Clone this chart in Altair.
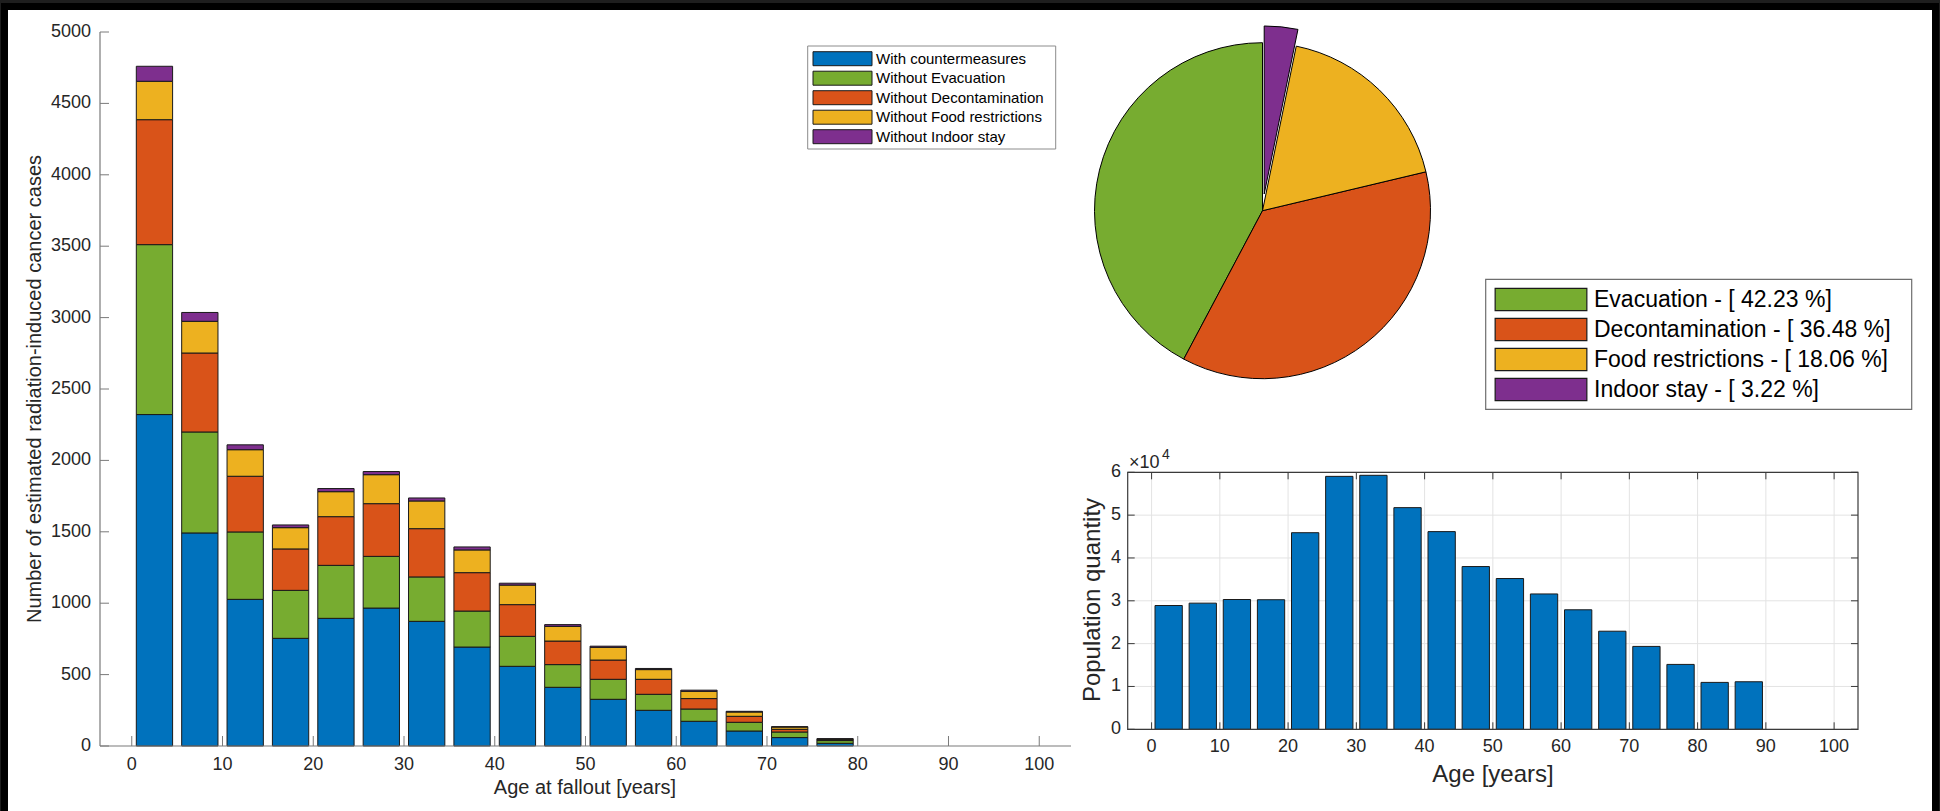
import math
import altair as alt
import pandas as pd

W, H = 1940, 811
FONT = "Liberation Sans"
INK = "#262626"
AXIS_GRAY = "#7a7a7a"
EDGE = "#1a1a1a"

# ---- Radiation-induced cancer cases by age at fallout (5-year groups) ----
age_groups = [0, 5, 10, 15, 20, 25, 30, 35, 40, 45, 50, 55, 60, 65, 70, 75]
series_names = ["With countermeasures", "Without Evacuation", "Without Decontamination",
                "Without Food restrictions", "Without Indoor stay"]
series_colors = ["#0072BD", "#77AC30", "#D95319", "#EDB120", "#7E2F8E"]
with_countermeasures = [2321, 1492, 1027, 754, 894, 966, 873, 693, 558, 411, 327, 250, 173, 105, 59, 19]
extra_evacuation = [1190, 707, 472, 336, 371, 362, 311, 252, 210, 159, 140, 112, 86, 61, 39, 19]
extra_decontamination = [875, 553, 390, 290, 341, 369, 338, 269, 222, 165, 135, 105, 73, 42, 19, 6]
extra_food = [269, 222, 186, 149, 175, 203, 194, 159, 137, 103, 89, 68, 51, 30, 16, 5]
extra_indoor = [105, 62, 34, 19, 22, 22, 21, 21, 13, 12, 8, 8, 8, 5, 2, 2]
cases_x_ticks = [0, 10, 20, 30, 40, 50, 60, 70, 80, 90, 100]
cases_y_ticks = [0, 500, 1000, 1500, 2000, 2500, 3000, 3500, 4000, 4500, 5000]

# ---- Share of averted cases per countermeasure ----
pie_names = ["Evacuation", "Decontamination", "Food restrictions", "Indoor stay"]
pie_pct = [42.23, 36.48, 18.06, 3.22]
pie_colors = ["#77AC30", "#D95319", "#EDB120", "#7E2F8E"]

# ---- Population by age ----
pop_ages = [0, 5, 10, 15, 20, 25, 30, 35, 40, 45, 50, 55, 60, 65, 70, 75, 80, 85]
population = [28900, 29450, 30300, 30250, 45900, 59050, 59300, 51750, 46150,
              38000, 35200, 31600, 27900, 22900, 19350, 15150, 10950, 11100]
pop_x_ticks = [0, 10, 20, 30, 40, 50, 60, 70, 80, 90, 100]
pop_y_ticks = [0, 10000, 20000, 30000, 40000, 50000, 60000]

# ---------------------------------------------------------------------------
one = pd.DataFrame({"a": [0]})

cases_rows = []
for k, (name, vals) in enumerate(zip(series_names, [with_countermeasures, extra_evacuation,
                                                    extra_decontamination, extra_food, extra_indoor])):
    for age, v in zip(age_groups, vals):
        cases_rows.append({"age": age, "series": name, "k": k, "cases": v})
cases_df = pd.DataFrame(cases_rows)

pie_df = pd.DataFrame({"name": pie_names, "pct": pie_pct, "idx": list(range(len(pie_names))),
                       "label": [f"{n} - [ {p:.2f} %]" for n, p in zip(pie_names, pie_pct)]})
pop_df = pd.DataFrame({"age": pop_ages, "pop": population})
legend_df = pd.DataFrame({"series": series_names})


def lin(domain, rng):
    return alt.Scale(domain=list(domain), range=list(rng), nice=False, zero=False)


# panel geometry (pixels)
LX = lin([-3.5, 103.5], [100, 1071])
LY = lin([0, 5000], [746, 32])
RX = lin([-3.5, 103.5], [1127.7, 1858])
RY = lin([0, 60000], [729.3, 472.3])

series_scale = alt.Scale(domain=series_names, range=series_colors)
pie_scale = alt.Scale(domain=pie_names, range=pie_colors)

layers = []

# window frame
layers.append(alt.Chart(one).mark_rect(color="#000000").encode(
    x=alt.value(1), x2=alt.value(1939), y=alt.value(3), y2=alt.value(H)))
layers.append(alt.Chart(one).mark_rect(color="#ffffff").encode(
    x=alt.value(8), x2=alt.value(1932), y=alt.value(10), y2=alt.value(H)))

# ---------------- stacked cases chart ----------------
layers.append(
    alt.Chart(cases_df)
    .transform_calculate(x0="datum.age + 0.5", x1="datum.age + 4.5")
    .transform_stack(stack="cases", groupby=["age"], as_=["c0", "c1"],
                     sort=[alt.SortField("k", order="ascending")])
    .mark_rect(stroke=EDGE, strokeWidth=1)
    .encode(
        x=alt.X("x0:Q", scale=LX, axis=None), x2="x1:Q",
        y=alt.Y("c0:Q", scale=LY, axis=None), y2="c1:Q",
        color=alt.Color("series:N", scale=series_scale, legend=None),
    )
)
# axis lines
layers.append(alt.Chart(one).mark_rule(color=AXIS_GRAY, strokeWidth=1.2).encode(
    x=alt.value(100), x2=alt.value(1071), y=alt.value(746)))
layers.append(alt.Chart(one).mark_rule(color=AXIS_GRAY, strokeWidth=1.2).encode(
    x=alt.value(100), y=alt.value(32), y2=alt.value(746)))
# inward ticks
layers.append(alt.Chart(pd.DataFrame({"t": cases_x_ticks})).mark_rule(color=AXIS_GRAY, strokeWidth=1).encode(
    x=alt.X("t:Q", scale=LX, axis=None), y=alt.value(746), y2=alt.value(736)))
layers.append(alt.Chart(pd.DataFrame({"t": cases_y_ticks})).mark_rule(color=AXIS_GRAY, strokeWidth=1).encode(
    y=alt.Y("t:Q", scale=LY, axis=None), x=alt.value(100), x2=alt.value(109)))
# tick labels
layers.append(alt.Chart(pd.DataFrame({"t": cases_x_ticks})).mark_text(
    font=FONT, fontSize=18, color=INK, align="center", baseline="middle").encode(
    x=alt.X("t:Q", scale=LX, axis=None), y=alt.value(765), text=alt.Text("t:Q", format="d")))
layers.append(alt.Chart(pd.DataFrame({"t": cases_y_ticks})).mark_text(
    font=FONT, fontSize=18, color=INK, align="right", baseline="middle").encode(
    y=alt.Y("t:Q", scale=LY, axis=None), x=alt.value(91), text=alt.Text("t:Q", format="d")))
# axis titles
layers.append(alt.Chart(one).mark_text(
    font=FONT, fontSize=20, color=INK, align="center", baseline="middle",
    text="Age at fallout [years]").encode(x=alt.value(585), y=alt.value(788)))
layers.append(alt.Chart(one).mark_text(
    font=FONT, fontSize=20, color=INK, align="center", baseline="middle", angle=270,
    text="Number of estimated radiation-induced cancer cases").encode(x=alt.value(35), y=alt.value(389)))
# legend
layers.append(alt.Chart(one).mark_rect(fill="#ffffff", stroke="#8c8c8c", strokeWidth=1).encode(
    x=alt.value(807.7), x2=alt.value(1055.7), y=alt.value(46), y2=alt.value(149)))
row_l = alt.Scale(type="point", domain=series_names, range=[58.7, 136.7], padding=0)
layers.append(alt.Chart(legend_df).mark_point(
    shape="M-1,-0.237L1,-0.237L1,0.237L-1,0.237Z", size=59 * 59, filled=True, opacity=1,
    stroke=EDGE, strokeWidth=1).encode(
    x=alt.value(842.5), y=alt.Y("series:N", scale=row_l, axis=None),
    fill=alt.Fill("series:N", scale=series_scale, legend=None)))
layers.append(alt.Chart(legend_df).mark_text(
    font=FONT, fontSize=15, color="#000000", align="left", baseline="middle").encode(
    x=alt.value(876), y=alt.Y("series:N", scale=row_l, axis=None), text="series:N"))

# ---------------- pie chart ----------------
R = 168
CX, CY = 1262.5, 210.7
total = sum(pie_pct)
theta_scale = alt.Scale(domain=[0, total], range=[0, 2 * math.pi])
pie_base = (
    alt.Chart(pie_df)
    .transform_window(t1="sum(pct)", sort=[alt.SortField("idx", order="descending")],
                      frame=[None, 0])
    .transform_calculate(t0="datum.t1 - datum.pct")
)
explode_name = pie_names[-1]
mid = (pie_pct[-1] / 2) / total * 2 * math.pi
DX, DY = 0.1 * R * math.sin(mid), -0.1 * R * math.cos(mid)
layers.append(
    pie_base.transform_filter(alt.datum.name != explode_name)
    .mark_arc(radius=R, stroke="#000000", strokeWidth=1)
    .encode(theta=alt.Theta("t0:Q", scale=theta_scale), theta2="t1:Q",
            color=alt.Color("name:N", scale=pie_scale, legend=None),
            x=alt.value(CX), y=alt.value(CY))
)
layers.append(
    pie_base.transform_filter(alt.datum.name == explode_name)
    .mark_arc(radius=R, stroke="#000000", strokeWidth=1)
    .encode(theta=alt.Theta("t0:Q", scale=theta_scale), theta2="t1:Q",
            color=alt.Color("name:N", scale=pie_scale, legend=None),
            x=alt.value(CX + DX), y=alt.value(CY + DY))
)
# pie legend
layers.append(alt.Chart(one).mark_rect(fill="#ffffff", stroke="#6e6e6e", strokeWidth=1.2).encode(
    x=alt.value(1485.7), x2=alt.value(1911.7), y=alt.value(279.3), y2=alt.value(409.3)))
row_p = alt.Scale(type="point", domain=pie_names, range=[299.5, 389.5], padding=0)
layers.append(alt.Chart(pie_df).mark_point(
    shape="M-1,-0.244L1,-0.244L1,0.244L-1,0.244Z", size=91.7 * 91.7, filled=True, opacity=1,
    stroke=EDGE, strokeWidth=1.2).encode(
    x=alt.value(1541), y=alt.Y("name:N", scale=row_p, axis=None),
    fill=alt.Fill("name:N", scale=pie_scale, legend=None)))
layers.append(alt.Chart(pie_df).mark_text(
    font=FONT, fontSize=23, color="#000000", align="left", baseline="middle").encode(
    x=alt.value(1594), y=alt.Y("name:N", scale=row_p, axis=None), text="label:N"))

# ---------------- population chart ----------------
GRID = "#e3e3e3"
layers.append(alt.Chart(pd.DataFrame({"t": pop_x_ticks})).mark_rule(color=GRID, strokeWidth=1).encode(
    x=alt.X("t:Q", scale=RX, axis=None), y=alt.value(472.3), y2=alt.value(729.3)))
layers.append(alt.Chart(pd.DataFrame({"t": pop_y_ticks})).mark_rule(color=GRID, strokeWidth=1).encode(
    y=alt.Y("t:Q", scale=RY, axis=None), x=alt.value(1127.7), x2=alt.value(1858)))
layers.append(
    alt.Chart(pop_df)
    .transform_calculate(x0="datum.age + 0.5", x1="datum.age + 4.5", base="0")
    .mark_rect(color="#0072BD", stroke=EDGE, strokeWidth=1)
    .encode(x=alt.X("x0:Q", scale=RX, axis=None), x2="x1:Q",
            y=alt.Y("pop:Q", scale=RY, axis=None), y2="base:Q")
)
BOX = "#3a3a3a"
layers.append(alt.Chart(one).mark_rect(fillOpacity=0, stroke=BOX, strokeWidth=1.2).encode(
    x=alt.value(1127.7), x2=alt.value(1858), y=alt.value(472.3), y2=alt.value(729.3)))
for y0, y1 in [(729.3, 722.3), (472.3, 479.3)]:
    layers.append(alt.Chart(pd.DataFrame({"t": pop_x_ticks})).mark_rule(color=BOX, strokeWidth=1).encode(
        x=alt.X("t:Q", scale=RX, axis=None), y=alt.value(y0), y2=alt.value(y1)))
for x0, x1 in [(1127.7, 1134.7), (1858, 1851)]:
    layers.append(alt.Chart(pd.DataFrame({"t": pop_y_ticks})).mark_rule(color=BOX, strokeWidth=1).encode(
        y=alt.Y("t:Q", scale=RY, axis=None), x=alt.value(x0), x2=alt.value(x1)))
layers.append(alt.Chart(pd.DataFrame({"t": pop_x_ticks})).mark_text(
    font=FONT, fontSize=18, color=INK, align="center", baseline="middle").encode(
    x=alt.X("t:Q", scale=RX, axis=None), y=alt.value(747), text=alt.Text("t:Q", format="d")))
layers.append(alt.Chart(pd.DataFrame({"t": pop_y_ticks})).transform_calculate(lab="datum.t / 10000").mark_text(
    font=FONT, fontSize=18, color=INK, align="right", baseline="middle").encode(
    y=alt.Y("t:Q", scale=RY, axis=None), x=alt.value(1121), text=alt.Text("lab:Q", format="d")))
layers.append(alt.Chart(one).mark_text(
    font=FONT, fontSize=18, color=INK, align="left", baseline="alphabetic", text="\u00d710").encode(
    x=alt.value(1129), y=alt.value(468)))
layers.append(alt.Chart(one).mark_text(
    font=FONT, fontSize=14, color=INK, align="left", baseline="alphabetic", text="4").encode(
    x=alt.value(1162), y=alt.value(459)))
layers.append(alt.Chart(one).mark_text(
    font=FONT, fontSize=24, color=INK, align="center", baseline="middle", text="Age [years]").encode(
    x=alt.value(1493), y=alt.value(775)))
layers.append(alt.Chart(one).mark_text(
    font=FONT, fontSize=24, color=INK, align="center", baseline="middle", angle=270,
    text="Population quantity").encode(x=alt.value(1093), y=alt.value(600)))

chart = (
    alt.layer(*layers)
    .resolve_scale(x="independent", y="independent", color="independent",
                   fill="independent", theta="independent")
    .properties(width=W, height=H, padding=0, autosize=alt.AutoSizeParams(type="none"),
                background="#1e1e1e")
    .configure_view(stroke=None, strokeWidth=0)
)

chart.save("out.html", embed_options={"renderer": "svg", "actions": False})
